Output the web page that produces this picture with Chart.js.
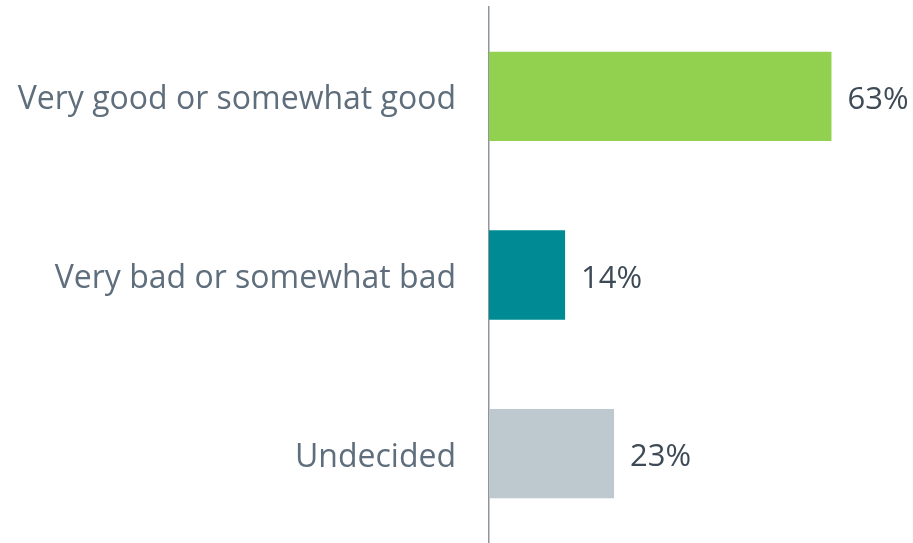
<!DOCTYPE html>
<html>
<head>
<meta charset="utf-8">
<script src="https://cdn.jsdelivr.net/npm/chart.js@4"></script>
<style>
  html, body { margin: 0; padding: 0; background: #fff; }
  #wrap { width: 913px; height: 543px; }
</style>
</head>
<body>
<div id="wrap"><canvas id="myChart" width="913" height="543"></canvas></div>
<script>
var categories = ['Very good or somewhat good', 'Very bad or somewhat bad', 'Undecided']
var values = [63, 14, 23]
var barColors = ['#92d050', '#008b94', '#bdc8cf']

var fontFamily = '"Open Sans", "Noto Sans", sans-serif'

// writes "63%" etc. just past the end of each bar
var valueLabels = {
    id: 'valueLabels',
    afterDatasetsDraw: function (chart) {
        var ctx = chart.ctx
        var meta = chart.getDatasetMeta(0)
        ctx.save()
        ctx.font = '31px ' + fontFamily
        ctx.fillStyle = '#3e4b57'
        ctx.textAlign = 'left'
        ctx.textBaseline = 'middle'
        meta.data.forEach(function (bar, i) {
            ctx.fillText(values[i] + '%', bar.x + 16, bar.y + 4)
        })
        ctx.restore()
    }
}

new Chart('myChart', {
    type: 'bar',
    data: {
        labels: categories,
        datasets: [{
            data: values,
            backgroundColor: barColors,
            borderWidth: 0,
            barPercentage: 0.5,
            categoryPercentage: 1
        }]
    },
    options: {
        indexAxis: 'y',
        responsive: false,
        animation: false,
        layout: { autoPadding: false, padding: { top: 7, bottom: -3, left: 0, right: 0 } },
        plugins: {
            legend: { display: false },
            tooltip: { enabled: false }
        },
        scales: {
            x: {
                display: false,
                min: 0,
                max: 78
            },
            y: {
                afterFit: function (scale) {
                    scale.width = 489
                    scale.paddingTop = 0
                    scale.paddingBottom = 0
                },
                grid: { display: false, drawTicks: false },
                border: { display: true, color: '#8e969c', width: 1.5 },
                ticks: {
                    padding: 33,
                    labelOffset: 4,
                    color: '#5f6e7c',
                    font: { size: 32, family: fontFamily }
                }
            }
        }
    },
    plugins: [valueLabels]
})
</script>
</body>
</html>
